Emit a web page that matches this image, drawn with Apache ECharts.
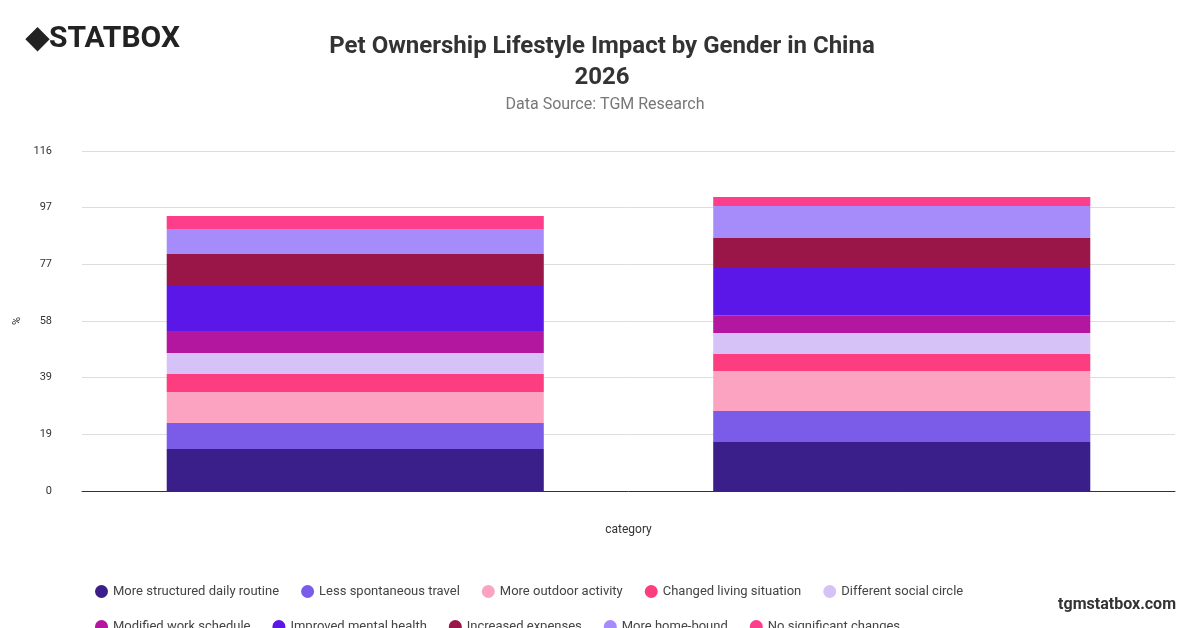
<!DOCTYPE html>
<html>
<head>
<meta charset="utf-8">
<script src="https://cdn.jsdelivr.net/npm/echarts@6/dist/echarts.min.js"></script>
<style>
body{margin:0;background:#fff;}
#chart{width:1200px;height:628px;}
</style>
</head>
<body>
<div id="chart"></div>
<script>
var categories = ['Male', 'Female'];
var seriesNames = ['More structured daily routine', 'Less spontaneous travel', 'More outdoor activity',
	'Changed living situation', 'Different social circle', 'Modified work schedule',
	'Improved mental health', 'Increased expenses', 'More home-bound', 'No significant changes'];
var routine = [14.3, 16.7];
var travel = [8.9, 10.6];
var outdoor = [10.6, 13.6];
var living = [6.1, 5.8];
var social = [7.2, 7.2];
var work = [7.5, 6.1];
var mental = [15.7, 16.1];
var expenses = [10.6, 10.2];
var homebound = [8.5, 10.9];
var noChange = [4.4, 3.1];
var colors = ['#3a1f8a', '#7b5ce8', '#fba3c1', '#fc3d80', '#d7c2f8', '#b3179f', '#5b17e8', '#9a1648', '#a68bfa', '#fd3e8a'];

var values = [routine, travel, outdoor, living, social, work, mental, expenses, homebound, noChange];
var series = [];
for(var i=0;i<seriesNames.length;i++){
	series.push({
		name: seriesNames[i],
		type: 'bar',
		stack: 'total',
		barWidth: '69%',
		itemStyle: {color: colors[i]},
		data: values[i]
	});
}

var myChart = echarts.init(document.getElementById('chart'));
myChart.setOption({
	animation: false,
	color: colors,
	title: [{
		text: 'Pet Ownership Lifestyle Impact by Gender in China\n2026',
		left: 597, top: 26, textAlign: 'center',
		textStyle: {fontFamily: 'Roboto', fontSize: 24, fontWeight: 'bold', color: '#333', lineHeight: 31}
	}, {
		text: 'Data Source: TGM Research',
		left: 600, top: 92, textAlign: 'center',
		textStyle: {fontFamily: 'Roboto', fontSize: 16, fontWeight: 'normal', color: '#777'}
	}],
	graphic: [{
		type: 'text', left: 26, top: 24,
		style: {text: '◆STATBOX', font: 'bold 30px Roboto', fill: '#222'}
	}, {
		type: 'text', right: 24, top: 597,
		style: {text: 'tgmstatbox.com', font: 'bold 16px Roboto', fill: '#333'}
	}],
	legend: {
		data: seriesNames,
		left: 90, top: 580, width: 1040,
		itemWidth: 13, itemHeight: 13, itemGap: 22, icon: 'circle',
		textStyle: {fontFamily: 'Roboto', fontSize: 13, color: '#444'}
	},
	grid: {left: 82, right: 25, top: 151, bottom: 137},
	xAxis: {
		type: 'category', data: categories,
		name: 'category', nameLocation: 'middle', nameGap: 33,
		nameTextStyle: {fontFamily: 'Roboto', fontSize: 12, color: '#333'},
		axisLabel: {show: false}, axisTick: {show: false},
		axisLine: {lineStyle: {color: '#333'}}
	},
	yAxis: {
		type: 'value', min: 0, max: 116, interval: 116/6,
		name: '%', nameLocation: 'middle', nameGap: 50,
		nameTextStyle: {fontFamily: 'Roboto', fontSize: 11, color: '#333'},
		axisLabel: {fontFamily: 'Roboto', fontSize: 11, color: '#333', margin: 30,
			formatter: function(v){ return Math.round(v); }},
		splitLine: {lineStyle: {color: '#ddd'}}
	},
	series: series
});
</script>
</body>
</html>
